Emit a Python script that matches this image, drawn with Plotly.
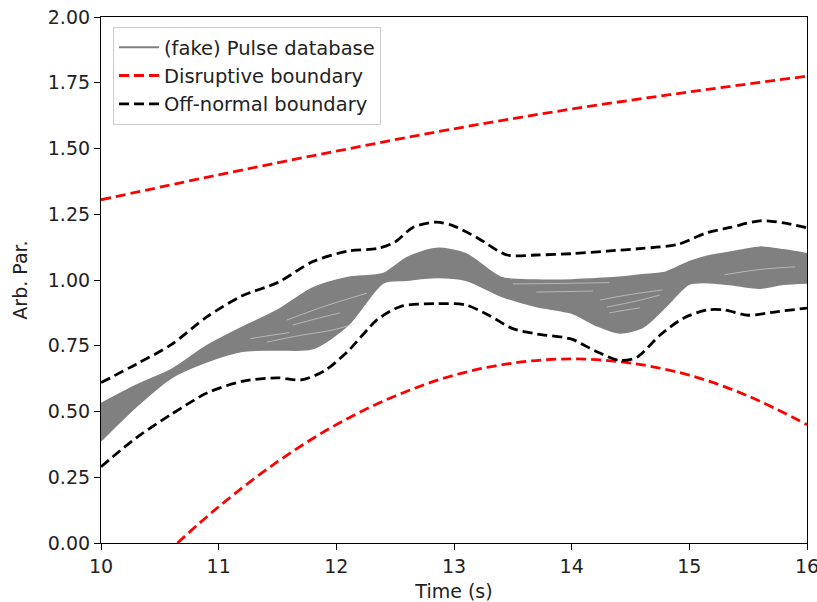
import plotly.graph_objects as go

# ---- data ----
band_t = [10.0, 10.3, 10.6, 10.9, 11.2, 11.5, 11.8, 12.1, 12.4, 12.6, 12.85, 13.1, 13.4,
          13.7, 14.0, 14.2, 14.4, 14.6, 14.8, 15.0, 15.2, 15.4, 15.6, 15.8, 16.0]
band_upper = [0.53, 0.60, 0.66, 0.75, 0.82, 0.885, 0.97, 1.01, 1.025, 1.085, 1.12, 1.10, 1.01,
              1.0, 1.0, 1.005, 1.01, 1.02, 1.03, 1.07, 1.095, 1.11, 1.125, 1.115, 1.10]
band_lower = [0.39, 0.52, 0.63, 0.69, 0.73, 0.735, 0.74, 0.83, 0.99, 1.0, 1.01, 1.0, 0.94,
              0.90, 0.875, 0.83, 0.80, 0.82, 0.90, 0.985, 0.99, 0.98, 0.97, 0.985, 0.99]

# light gaps between individual pulses inside the band
streak_t = [[11.27, 11.45, 11.6], [11.41, 11.7, 11.97, 12.2], [11.63, 11.85, 12.03],
            [11.58, 11.9, 12.26], [13.5, 13.9, 14.32], [13.7, 13.95, 14.18],
            [14.24, 14.5, 14.77], [14.3, 14.55, 14.75], [14.32, 14.45, 14.58],
            [15.3, 15.6, 15.9]]
streak_v = [[0.777, 0.79, 0.80], [0.764, 0.79, 0.81, 0.84], [0.829, 0.855, 0.875],
            [0.848, 0.9, 0.95], [0.985, 0.987, 0.99], [0.954, 0.956, 0.958],
            [0.924, 0.945, 0.962], [0.897, 0.92, 0.943], [0.875, 0.885, 0.894],
            [1.02, 1.04, 1.05]]

offn_up_t = [10.0, 10.3, 10.6, 10.9, 11.2, 11.5, 11.8, 12.1, 12.35, 12.5, 12.65, 12.85, 13.0,
             13.2, 13.45, 13.7, 14.0, 14.3, 14.6, 14.9, 15.15, 15.35, 15.6, 15.8, 16.0]
offn_up = [0.61, 0.68, 0.755, 0.86, 0.94, 0.99, 1.07, 1.11, 1.12, 1.145, 1.20, 1.22, 1.205,
           1.16, 1.095, 1.095, 1.10, 1.11, 1.12, 1.135, 1.18, 1.20, 1.225, 1.217, 1.198]

offn_lo_t = [10.0, 10.3, 10.6, 10.9, 11.2, 11.5, 11.7, 11.9, 12.1, 12.35, 12.55, 12.85, 13.1,
             13.3, 13.5, 13.7, 14.0, 14.2, 14.4, 14.55, 14.75, 14.95, 15.15, 15.3, 15.5, 15.75, 16.0]
offn_lo = [0.29, 0.40, 0.49, 0.57, 0.615, 0.628, 0.62, 0.655, 0.73, 0.85, 0.90, 0.91, 0.905,
           0.865, 0.815, 0.795, 0.775, 0.73, 0.695, 0.705, 0.79, 0.855, 0.886, 0.886, 0.866, 0.88, 0.893]

disr_up_t = [10.0, 11.0, 12.0, 13.0, 14.0, 15.0, 16.0]
disr_up = [1.305, 1.40, 1.49, 1.575, 1.65, 1.715, 1.775]

disr_lo_t = [10.65, 11.0, 11.5, 12.0, 12.5, 13.0, 13.5, 14.0, 14.5, 15.0, 15.5, 16.0]
disr_lo = [0.0, 0.138, 0.309, 0.45, 0.559, 0.638, 0.684, 0.70, 0.684, 0.638, 0.559, 0.45]

x_ticks = [10, 11, 12, 13, 14, 15, 16]
y_ticks = [0.0, 0.25, 0.5, 0.75, 1.0, 1.25, 1.5, 1.75, 2.0]

FONT = "DejaVu Sans"
FS = 19
TXT = "#222"
GRAY = "#808080"
DASH = "10px,5px"

fig = go.Figure()
fig.add_trace(go.Scatter(x=band_t, y=band_lower, mode="lines",
                         line=dict(color=GRAY, width=2, shape="spline", smoothing=0.8),
                         name="(fake) Pulse database", legendgroup="a"))
fig.add_trace(go.Scatter(x=band_t, y=band_upper, mode="lines", fill="tonexty", fillcolor=GRAY,
                         line=dict(color=GRAY, width=1.5, shape="spline", smoothing=0.8),
                         showlegend=False, legendgroup="a", hoverinfo="skip"))
for st, sv in zip(streak_t, streak_v):
    fig.add_trace(go.Scatter(x=st, y=sv, mode="lines",
                             line=dict(color="rgba(220,220,220,0.6)", width=1.0, shape="spline"),
                             showlegend=False, legendgroup="a", hoverinfo="skip"))
fig.add_trace(go.Scatter(x=disr_up_t, y=disr_up, mode="lines",
                         line=dict(color="red", width=2.8, dash=DASH, shape="spline"),
                         name="Disruptive boundary", legendgroup="b"))
fig.add_trace(go.Scatter(x=disr_lo_t, y=disr_lo, mode="lines",
                         line=dict(color="red", width=2.8, dash=DASH, shape="spline"),
                         showlegend=False, legendgroup="b"))
fig.add_trace(go.Scatter(x=offn_up_t, y=offn_up, mode="lines",
                         line=dict(color="black", width=2.8, dash=DASH, shape="spline", smoothing=0.8),
                         name="Off-normal boundary", legendgroup="c"))
fig.add_trace(go.Scatter(x=offn_lo_t, y=offn_lo, mode="lines",
                         line=dict(color="black", width=2.8, dash=DASH, shape="spline", smoothing=0.8),
                         showlegend=False, legendgroup="c"))

axis_common = dict(showline=True, linecolor="black", linewidth=1.2, mirror=True,
                   ticks="outside", ticklen=6, tickwidth=1.2, tickcolor="black",
                   showgrid=False, zeroline=False, automargin=False,
                   ticklabeloverflow="allow",
                   tickfont=dict(family=FONT, size=FS, color=TXT))

fig.update_layout(
    width=817, height=602,
    margin=dict(l=101, r=10, t=17, b=59),
    plot_bgcolor="white", paper_bgcolor="white",
    font=dict(family=FONT, size=FS, color=TXT),
    xaxis=dict(range=[10, 16], tickvals=x_ticks, ticktext=[str(v) for v in x_ticks],
               title=dict(text="Time (s)", font=dict(family=FONT, size=FS, color=TXT)),
               **axis_common),
    yaxis=dict(range=[0, 2], tickvals=y_ticks, ticktext=[f"{v:.2f}" for v in y_ticks],
               title=dict(text="Arb. Par.", font=dict(family=FONT, size=FS, color=TXT)),
               **axis_common),
    legend=dict(x=0.017, y=0.981, xanchor="left", yanchor="top",
                bgcolor="rgba(255,255,255,0.85)", bordercolor="#cccccc", borderwidth=1,
                font=dict(family=FONT, size=19.5, color=TXT), tracegroupgap=0,
                itemwidth=40),
    showlegend=True,
)

# remove the default 8px page margin so the figure fills the 817x602 window exactly
fig.write_html("out.html",
               config={"displayModeBar": False},
               post_script="document.body.style.margin='0';document.body.style.overflow='hidden';")
